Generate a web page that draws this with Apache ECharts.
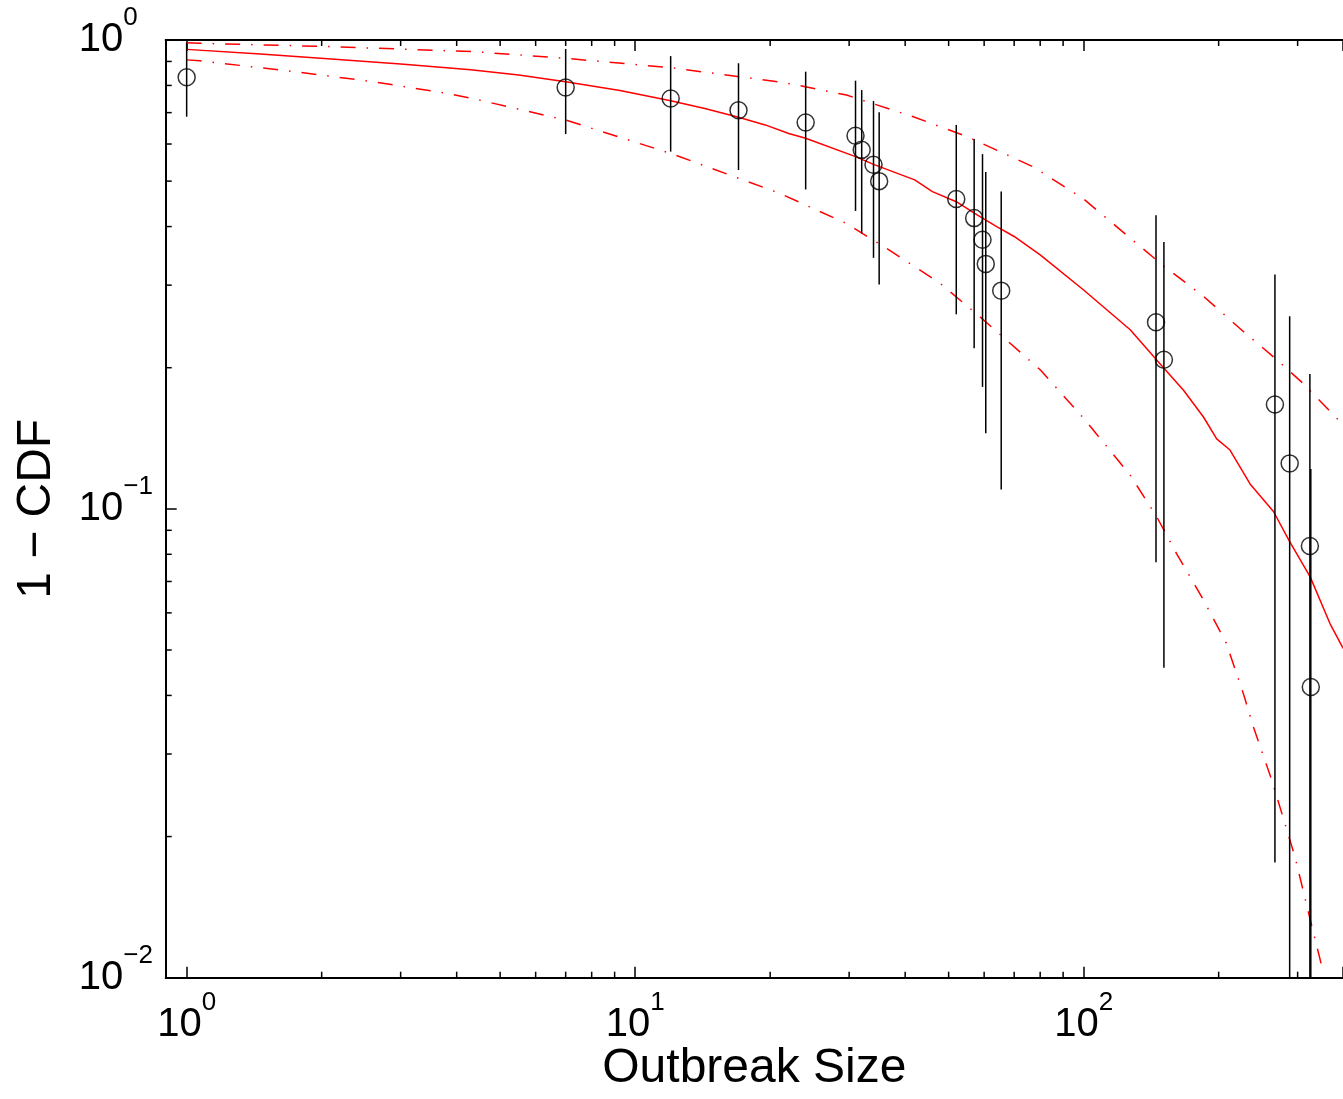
<!DOCTYPE html>
<html>
<head>
<meta charset="utf-8">
<script src="https://cdn.jsdelivr.net/npm/echarts@6/dist/echarts.min.js"></script>
<style>
html,body{margin:0;padding:0;background:#fff;}
#chart{width:1343px;height:1099px;}
</style>
</head>
<body>
<div id="chart"></div>
<script>
// ---- data ----
const sizes   = [1, 7, 12, 17, 24, 31, 32, 34, 35, 52, 57, 59.5, 60.5, 65.5, 145, 151, 267, 288, 319.5, 321];
const ccdf    = [0.833, 0.792, 0.750, 0.708, 0.667, 0.625, 0.583, 0.542, 0.500, 0.458, 0.417, 0.375, 0.333, 0.292, 0.250, 0.208, 0.167, 0.125, 0.0833, 0.0417];
const errLow  = [0.686, 0.630, 0.578, 0.528, 0.480, 0.432, 0.387, 0.343, 0.301, 0.260, 0.220, 0.182, 0.145, 0.110, 0.0769, 0.0458, 0.0176, 0.005, 0.005, 0.005];
const errHigh = [0.988, 0.957, 0.924, 0.892, 0.856, 0.819, 0.782, 0.741, 0.701, 0.659, 0.615, 0.571, 0.523, 0.475, 0.423, 0.371, 0.316, 0.2575, 0.194, 0.1216];

const fitX   = [1, 1.46, 2.1, 3, 4.3, 5.5, 7, 9.25, 12, 14.3, 17, 19.5, 22, 24, 31, 34, 42, 46, 52, 58, 64, 70, 80, 100, 127, 150, 167, 185, 198, 212, 235, 265, 288, 320, 354, 379];
const fitMid = [0.955, 0.934, 0.911, 0.889, 0.864, 0.842, 0.815, 0.780, 0.742, 0.714, 0.684, 0.659, 0.632, 0.617, 0.564, 0.543, 0.503, 0.475, 0.452, 0.423, 0.400, 0.381, 0.348, 0.293, 0.241, 0.201, 0.179, 0.157, 0.141, 0.1335, 0.113, 0.0987, 0.0851, 0.0716, 0.0570, 0.0504];

const upX = [1, 1.07, 2.1, 4.4, 7, 12, 21.4, 29.6, 41.7, 55, 77, 100, 127, 150, 185, 227, 265, 309, 379];
const upY = [0.987, 0.984, 0.968, 0.944, 0.914, 0.873, 0.812, 0.763, 0.686, 0.622, 0.537, 0.458, 0.378, 0.331, 0.284, 0.239, 0.211, 0.185, 0.151];

const loX = [1, 1.07, 1.74, 2.6, 3.88, 4.4, 7, 12, 21, 29.6, 36.4, 47.8, 58.7, 80, 100, 127, 145.5, 161, 185, 208, 227, 239, 263, 296, 320, 342];
const loY = [0.907, 0.903, 0.856, 0.815, 0.767, 0.748, 0.675, 0.573, 0.471, 0.406, 0.359, 0.303, 0.257, 0.198, 0.156, 0.118, 0.0962, 0.0804, 0.0639, 0.0517, 0.0404, 0.0343, 0.0263, 0.0181, 0.0133, 0.0103];

const xTickValues = [1, 10, 100];
const xTickExps   = ['0', '1', '2'];
const yTickValues = [0.01, 0.1, 1];
const yTickExps   = ['\u22122', '\u22121', '0'];
const xMinorTicks = [2, 3, 4, 5, 6, 7, 8, 9, 20, 30, 40, 50, 60, 70, 80, 90, 200, 300];
const yMinorTicks = [0.02, 0.03, 0.04, 0.05, 0.06, 0.07, 0.08, 0.09, 0.2, 0.3, 0.4, 0.5, 0.6, 0.7, 0.8, 0.9];

const xMin = 0.898, xMax = 378.7, yMin = 0.01, yMax = 1;

// ---- chart ----
const FONT = '"Liberation Sans", Arial, Helvetica, sans-serif';
const rich = {
  b: {fontSize: 40, lineHeight: 40, fontFamily: FONT, color: '#000', verticalAlign: 'bottom'},
  s: {fontSize: 26, lineHeight: 26, fontFamily: FONT, color: '#000', verticalAlign: 'bottom', padding: [0, 0, 29, 0]}
};
function tickFmt(values, exps) {
  return function (v) {
    for (let i = 0; i < values.length; i++) {
      if (Math.abs(Math.log10(v) - Math.log10(values[i])) < 1e-6) return '{b|10}{s|' + exps[i] + '}';
    }
    return '';
  };
}
const pairs = (xs, ys) => xs.map((x, i) => [x, ys[i]]);

const chart = echarts.init(document.getElementById('chart'), null, {renderer: 'canvas'});

const axisLine = {show: true, lineStyle: {color: '#000', width: 2}};
const majorTick = {show: true, inside: true, length: 11, lineStyle: {color: '#000', width: 1.5}};

function minorTickRender(params, api) {
  const cs = params.coordSys;
  const kind = api.value(2);
  const L = 6;
  const style = {stroke: '#000', lineWidth: 1.5};
  if (kind === 0) {
    const px = api.coord([api.value(0), 0.5])[0];
    return {type: 'group', children: [
      {type: 'line', shape: {x1: px, y1: cs.y + cs.height, x2: px, y2: cs.y + cs.height - L}, style: style},
      {type: 'line', shape: {x1: px, y1: cs.y, x2: px, y2: cs.y + L}, style: style}
    ]};
  } else {
    const py = api.coord([1, api.value(1)])[1];
    return {type: 'line', shape: {x1: cs.x, y1: py, x2: cs.x + L, y2: py}, style: style};
  }
}

function errRender(params, api) {
  const cs = params.coordSys;
  const x = api.value(0);
  const p1 = api.coord([x, api.value(1)]);
  const p2 = api.coord([x, api.value(2)]);
  const yb = Math.min(p1[1], cs.y + cs.height);
  const yt = Math.max(p2[1], cs.y);
  return {type: 'line', shape: {x1: p1[0], y1: yb, x2: p1[0], y2: yt}, style: {stroke: '#000', lineWidth: 1.5}};
}

const minorData = xMinorTicks.map(v => [v, 0.5, 0]).concat(yMinorTicks.map(v => [1, v, 1]));

const option = {
  backgroundColor: '#ffffff',
  animation: false,
  grid: {left: 165.7, top: 40, right: 0, bottom: 121.3, containLabel: false, outerBoundsMode: 'none'},
  xAxis: [
    {
      type: 'log', min: xMin, max: xMax, position: 'bottom',
      axisLine: axisLine, axisTick: majorTick, splitLine: {show: false}, minorTick: {show: false},
      axisLabel: {show: true, formatter: tickFmt(xTickValues, xTickExps), rich: rich, margin: 27, hideOverlap: false,
                  showMinLabel: true, showMaxLabel: true},
      name: 'Outbreak Size', nameLocation: 'middle', nameGap: 67, nameMoveOverlap: false,
      nameTextStyle: {fontSize: 48, fontFamily: FONT, color: '#000'}
    },
    {
      type: 'log', min: xMin, max: xMax, position: 'top',
      axisLine: axisLine, axisTick: majorTick, splitLine: {show: false},
      axisLabel: {show: false}
    }
  ],
  yAxis: [
    {
      type: 'log', min: yMin, max: yMax, position: 'left',
      axisLine: axisLine, axisTick: majorTick, splitLine: {show: false}, minorTick: {show: false},
      axisLabel: {show: true, formatter: tickFmt(yTickValues, yTickExps), rich: rich, margin: 87, align: 'left',
                  hideOverlap: false, showMinLabel: true, showMaxLabel: true},
      name: '1 \u2212 CDF', nameLocation: 'middle', nameGap: 105, nameMoveOverlap: false,
      nameTextStyle: {fontSize: 48, fontFamily: FONT, color: '#000'}
    }
  ],
  series: [
    {type: 'custom', name: 'minorTicks', xAxisIndex: 0, yAxisIndex: 0, renderItem: minorTickRender,
     data: minorData, silent: true, z: 5},
    {type: 'line', name: 'upper', data: pairs(upX, upY), showSymbol: false, symbol: 'none',
     lineStyle: {color: '#ff0000', width: 1.5, type: [15, 11, 1.5, 11]}, clip: true, z: 2},
    {type: 'line', name: 'median', data: pairs(fitX, fitMid), showSymbol: false, symbol: 'none',
     lineStyle: {color: '#ff0000', width: 1.5}, clip: true, z: 2},
    {type: 'line', name: 'lower', data: pairs(loX, loY), showSymbol: false, symbol: 'none',
     lineStyle: {color: '#ff0000', width: 1.5, type: [15, 11, 1.5, 11]}, clip: true, z: 2},
    {type: 'custom', name: 'errorbars', renderItem: errRender,
     data: sizes.map((x, i) => [x, errLow[i], errHigh[i]]), z: 3},
    {type: 'scatter', name: 'data', data: pairs(sizes, ccdf), symbol: 'circle', symbolSize: 17,
     itemStyle: {color: 'rgba(0,0,0,0)', borderColor: '#000', borderWidth: 1.5}, z: 4}
  ]
};
chart.setOption(option);
</script>
</body>
</html>
